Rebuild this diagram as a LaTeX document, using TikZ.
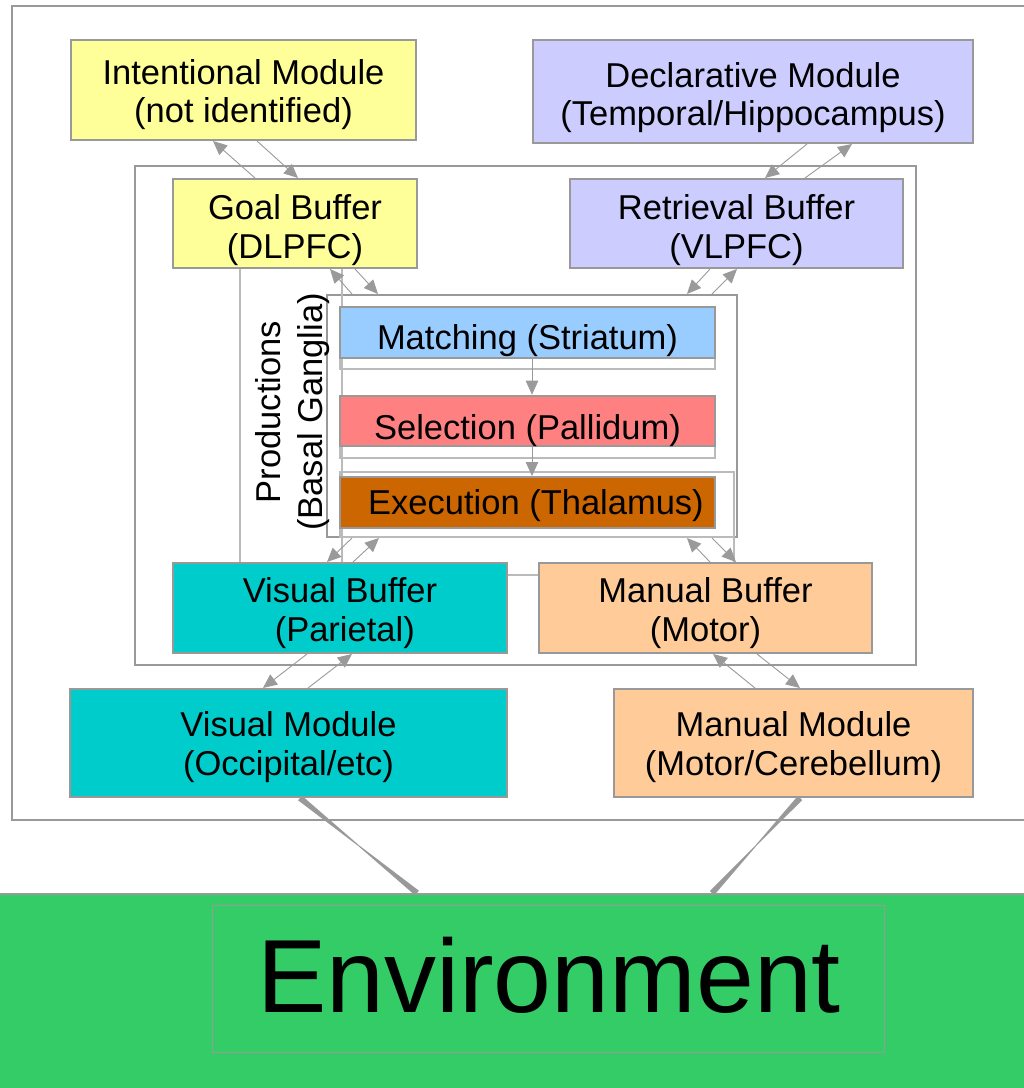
\documentclass[tikz,border=0pt]{standalone}
\usepackage{fontspec}
\setmainfont{Liberation Sans}
\usetikzlibrary{arrows.meta,calc}
\definecolor{cyel}{HTML}{FFFF99}
\definecolor{clav}{HTML}{CCCCFF}
\definecolor{cblue}{HTML}{99CCFF}
\definecolor{cred}{HTML}{FF8080}
\definecolor{cbrown}{HTML}{CC6600}
\definecolor{ccyan}{HTML}{00CCCC}
\definecolor{cpeach}{HTML}{FFCC99}
\definecolor{cgreen}{HTML}{33CC66}
\definecolor{cbord}{HTML}{999999}
\definecolor{carr}{HTML}{9A9A9A}
\definecolor{cthin}{HTML}{BBBBBB}
\newcommand\topgap[1]{\rule{0pt}{\dimexpr 25.5pt+#1pt\relax}}
\tikzset{
  box/.style={draw=cbord, line width=2pt, rectangle, inner sep=0pt, align=center,
    font=\fontsize{34.5}{37}\selectfont},
  skip/.style={font=\fontsize{34.5}{#1}\selectfont},
  frame/.style={draw=cbord, line width=2pt},
  subframe/.style={draw=cthin, line width=1.2pt},
  thinline/.style={draw=cthin, line width=1.3pt},
  arr/.style={draw=carr, line width=0.9pt, -{Triangle[length=14pt,width=12.5pt]}},
  taper/.style={fill=cbord}
}
\begin{document}
\begin{tikzpicture}[x=1pt,y=-1pt]
\useasboundingbox (0,0) rectangle (1024,1088);
\fill[white] (0,0) rectangle (1024,1088);
% outer and inner frames
\draw[frame] (12,6) rectangle (1040,820);
\draw[frame, line width=1.6pt] (135,166) rectangle (916,665);
% environment band
\node[draw=cbord, line width=2pt, fill=cgreen, minimum width=1100pt, minimum height=200pt, anchor=north, inner sep=0pt] (envband) at (512,893) {};
\node[draw=cbord, line width=0.8pt, minimum width=672pt, minimum height=147pt, inner sep=0pt] (envbox) at (548,978.5) {};
\node[font=\fontsize{104}{110}\selectfont, inner sep=0pt] (envtext) at (549,975) {Environment};
% modules
\node[box, skip=38, fill=cyel, minimum width=345pt, minimum height=100pt] (intent) at (243.5,90) {\topgap{9}Intentional Module\\(not identified)};
\node[box, skip=38, fill=clav, minimum width=440pt, minimum height=103pt] (decl) at (753,91.5) {\topgap{11}Declarative Module\\(Temporal/Hippocampus)};
\node[box, skip=39, fill=ccyan, minimum width=437pt, minimum height=108pt] (vismod) at (288.5,743) {\topgap{8}Visual Module\\(Occipital/etc)};
\node[box, skip=39, fill=cpeach, minimum width=359pt, minimum height=108pt] (manmod) at (793.5,743) {\topgap{8}Manual Module\\(Motor/Cerebellum)};
% buffers
\node[box, skip=39, fill=cyel, minimum width=244pt, minimum height=89pt] (goal) at (295,223.5) {\topgap{12}Goal Buffer\\(DLPFC)};
\node[box, skip=39, fill=clav, minimum width=333pt, minimum height=89pt] (retr) at (736.5,223.5) {\topgap{12}Retrieval Buffer\\(VLPFC)};
\node[box, skip=39, fill=ccyan, minimum width=334pt, minimum height=90pt] (visbuf) at (340,608) {\topgap{10}Visual Buffer\\\ (Parietal)};
\node[box, skip=39, fill=cpeach, minimum width=333pt, minimum height=90pt] (manbuf) at (705.5,608) {\topgap{10}Manual Buffer\\(Motor)};
% productions
\node[draw=cbord, line width=2pt, minimum width=410pt, minimum height=242pt, inner sep=0pt] (prod) at (532,416) {};
\node[rotate=90, align=center, inner sep=0pt, font=\fontsize{34.5}{42}\selectfont] (prodlabel) at (293,412) {Productions\\(Basal Ganglia)};
% thin connecting lines
\draw[thinline] ([xshift=-55pt]goal.south) -- ([xshift=-100pt]visbuf.north);
\draw[thinline] ([xshift=47pt]goal.south) -- ([xshift=2pt]visbuf.north);
\draw[thinline] ([xshift=202pt]prod.south) -- ([xshift=28.5pt]manbuf.north);
\draw[thinline] ([yshift=-13pt]visbuf.north east) -- ([yshift=-13pt]manbuf.north west);
% sub frames
\draw[subframe] (340,307) rectangle (715,369);
\draw[subframe] (340,396) rectangle (715,458);
\draw[subframe] (340,472) rectangle (734,537);
\node[box, fill=cblue, minimum width=375pt, minimum height=51pt] (match) at (527.5,332.5) {\topgap{16}Matching (Striatum)};
\node[box, fill=cred, minimum width=375pt, minimum height=50pt] (sel) at (527.5,421) {\topgap{18}Selection (Pallidum)};
\node[box, fill=cbrown, minimum width=375pt, minimum height=51pt] (exec) at (527.5,502.5) {\topgap{6}\hspace{17pt}Execution (Thalamus)};
% arrows
\draw[arr] ([xshift=4.5pt]match.south) -- ([xshift=4.5pt]sel.north);
\draw[arr] ([xshift=4.5pt]sel.south) -- ([xshift=4.5pt]exec.north);
\draw[arr] ([xshift=-40pt]goal.north) -- ([xshift=-30.5pt]intent.south);
\draw[arr] ([xshift=13.5pt]intent.south) -- ([xshift=3pt]goal.north);
\draw[arr] ([xshift=54pt]decl.south) -- ([xshift=28.5pt]retr.north);
\draw[arr] ([xshift=68.5pt]retr.north) -- ([xshift=99pt]decl.south);
\draw[arr] ([xshift=-180pt]prod.north) -- ([xshift=35pt]goal.south);
\draw[arr] ([xshift=60pt]goal.south) -- ([xshift=-154pt]prod.north);
\draw[arr] ([xshift=-26.5pt]retr.south) -- ([xshift=155pt]prod.north);
\draw[arr] ([xshift=180pt]prod.north) -- ([xshift=0.5pt]retr.south);
\draw[arr] ([xshift=-180pt]prod.south) -- ([xshift=-13pt]visbuf.north);
\draw[arr] ([xshift=13pt]visbuf.north) -- ([xshift=-153pt]prod.south);
\draw[arr] ([xshift=4.5pt]manbuf.north) -- ([xshift=155pt]prod.south);
\draw[arr] ([xshift=180pt]prod.south) -- ([xshift=30.5pt]manbuf.north);
\draw[arr] ([xshift=-33pt]visbuf.south) -- ([xshift=-25.5pt]vismod.north);
\draw[arr] ([xshift=19.5pt]vismod.north) -- ([xshift=12pt]visbuf.south);
\draw[arr] ([xshift=-38.5pt]manmod.north) -- ([xshift=7.5pt]manbuf.south);
\draw[arr] ([xshift=51.5pt]manbuf.south) -- ([xshift=6.5pt]manmod.north);
% tapered links to environment
\coordinate (va) at ([xshift=11.5pt]vismod.south);
\coordinate (vb) at ([xshift=-95pt]envband.north);
\coordinate (vm) at ($(va)!0.5!(vb)$);
\coordinate (ma) at ([xshift=6.5pt]manmod.south);
\coordinate (mb) at ([xshift=200pt]envband.north);
\coordinate (mm) at ($(ma)!0.5!(mb)$);
\fill[taper] ($(va)!3pt!90:(vb)$) -- ($(vm)!0.5pt!90:(vb)$) -- ($(vm)!0.5pt!-90:(vb)$) -- ($(va)!3pt!-90:(vb)$) -- cycle;
\fill[taper] ($(vb)!3pt!90:(va)$) -- ($(vm)!0.5pt!90:(va)$) -- ($(vm)!0.5pt!-90:(va)$) -- ($(vb)!3pt!-90:(va)$) -- cycle;
\fill[taper] ($(ma)!3pt!90:(mb)$) -- ($(mm)!0.5pt!90:(mb)$) -- ($(mm)!0.5pt!-90:(mb)$) -- ($(ma)!3pt!-90:(mb)$) -- cycle;
\fill[taper] ($(mb)!3pt!90:(ma)$) -- ($(mm)!0.5pt!90:(ma)$) -- ($(mm)!0.5pt!-90:(ma)$) -- ($(mb)!3pt!-90:(ma)$) -- cycle;
\end{tikzpicture}
\end{document}
